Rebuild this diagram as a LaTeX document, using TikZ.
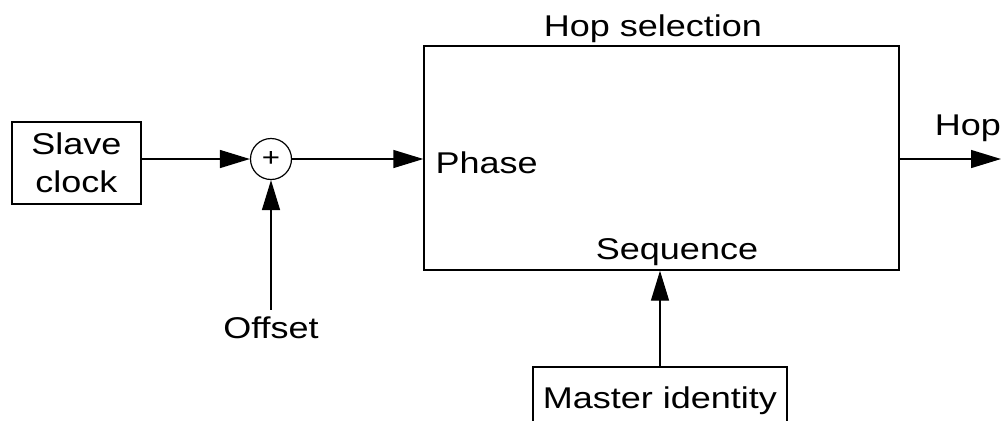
\documentclass[tikz,border=0pt]{standalone}
\usepackage{fontspec}
\setmainfont{Liberation Sans}[FakeStretch=1.2]
\usetikzlibrary{positioning, arrows.meta}

\begin{document}
\begin{tikzpicture}[x=0.5pt, y=-0.5pt, ->, >={Triangle[length=15pt,width=9pt]}, line width=0.7pt,
    font=\fontsize{15pt}{19pt}\selectfont,
    block/.style={draw, align=center, inner sep=0pt}]
    \useasboundingbox (0,0) rectangle (1002,420);
    \clip (0,0) rectangle (1002,420);
    	\node[block, minimum width=64.5pt, minimum height=41pt] (clock) at (76.5,163) {Slave\\clock};
    	\node[draw, circle, minimum size=20.5pt, inner sep=0pt, line width=0.6pt, font=\fontsize{13pt}{13pt}\selectfont] (adder) at (271,159) {+};
    	\node[block, minimum width=237.5pt, minimum height=112pt] (hopsel) at (661.5,158) {};
    	\node (hoplabel) at (653,29) {Hop selection};
    	\node[anchor=west, inner sep=0pt] (phase) at (435,163) {Phase};
    	\node (seq) at (677,252) {Sequence};
    	\node (offset) at (271,328) {Offset};
    	\node (hop) at (968,128) {Hop};
    	\node[block, minimum width=127pt, minimum height=34pt] (master) at (660,401) {Master identity};
    	\coordinate (hopend) at (1001,159);
    	\draw (clock.east |- adder.west) -- (adder.west);
    	\draw (offset.north) -- (adder.south);
    	\draw (adder.east) -- (hopsel.west |- adder.east);
    	\draw (master.north) -- (master.north |- hopsel.south);
    	\draw (hopsel.east |- hopend) -- (hopend);
    \end{tikzpicture}
\end{document}
